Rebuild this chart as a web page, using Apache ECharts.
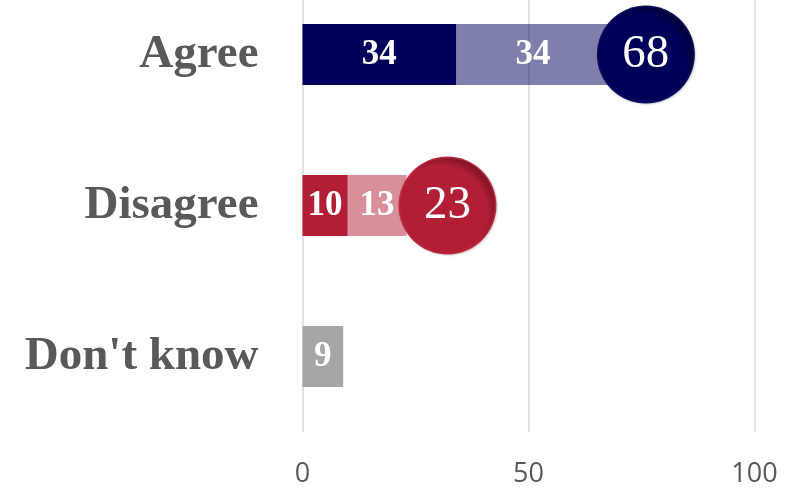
<!DOCTYPE html>
<html>
<head>
<meta charset="utf-8">
<script src="https://cdn.jsdelivr.net/npm/echarts@6/dist/echarts.min.js"></script>
<style>
  html, body { margin: 0; padding: 0; background: #ffffff; overflow: hidden; }
  /* the plot's top band runs past the top edge of the page */
  #chart { width: 797px; height: 509px; margin-top: -21px; }
</style>
</head>
<body>
<div id="chart"></div>
<script>
// Survey answers, in percent
const categories = ['Agree', 'Disagree', "Don't know"];
const strongValues = [34, 10, 9];     // strongly agree / strongly disagree / don't know
const mildValues = [34, 13, null];    // tend to agree / tend to disagree
const totals = [68, 23, null];        // net figure shown in the bubble
const xTicks = [0, 50, 100];

// Styling
const strongColors = ['#00005a', '#b21f35', '#a6a6a6'];
const mildColors = ['rgba(0,0,90,0.5)', 'rgba(178,31,53,0.5)', 'rgba(166,166,166,0.5)'];
const bubbleFace = ['#00005a', '#b21f35'];
const bubbleEdge = ['#000030', '#7a1222'];
const bubbleRim = ['#0c0c62', '#bb2a3e'];
const bubbleShift = [36, 41];
const labelFont = 'Liberation Serif, "DejaVu Serif", serif';

const chart = echarts.init(document.getElementById('chart'), null, { renderer: 'canvas' });

const segLabel = {
  show: true,
  position: 'inside',
  color: '#ffffff',
  fontFamily: labelFont,
  fontWeight: 'bold',
  fontSize: 35
};

const strongData = strongValues.map((v, i) => ({
  value: v,
  itemStyle: { color: strongColors[i] }
}));
const mildData = mildValues.map((v, i) => ({
  value: v,
  itemStyle: { color: mildColors[i] }
}));

const bubbleIdx = totals.map((t, i) => (t == null ? -1 : i)).filter(i => i >= 0);

const rimData = bubbleIdx.map(i => ({
  value: [totals[i], categories[i]],
  symbolOffset: [bubbleShift[i], 0],
  itemStyle: {
    color: bubbleRim[i],
    opacity: 1,
    shadowColor: 'rgba(0,0,0,0.18)',
    shadowBlur: 2,
    shadowOffsetX: 1,
    shadowOffsetY: 1
  }
}));

const faceData = bubbleIdx.map(i => ({
  value: [totals[i], categories[i]],
  symbolOffset: [bubbleShift[i], 0],
  itemStyle: {
    opacity: 1,
    color: {
      type: 'radial', x: 0.42, y: 0.58, r: 0.62,
      colorStops: [
        { offset: 0, color: bubbleFace[i] },
        { offset: 0.8, color: bubbleFace[i] },
        { offset: 1, color: bubbleEdge[i] }
      ]
    }
  }
}));

chart.setOption({
  animation: false,
  grid: { left: 302.5, right: 42.5, top: 0, bottom: 55, containLabel: false },
  xAxis: {
    type: 'value',
    min: xTicks[0],
    max: xTicks[xTicks.length - 1],
    interval: xTicks[1] - xTicks[0],
    axisLine: { show: false },
    axisTick: { show: false },
    splitLine: { show: true, lineStyle: { color: '#d9d9d9', width: 1.5 } },
    axisLabel: {
      color: '#595959',
      fontFamily: '"Open Sans", sans-serif',
      fontSize: 27,
      margin: 29
    }
  },
  yAxis: {
    type: 'category',
    inverse: true,
    data: categories,
    axisLine: { show: false },
    axisTick: { show: false },
    splitLine: { show: false },
    axisLabel: {
      color: '#595959',
      fontFamily: labelFont,
      fontWeight: 'bold',
      fontSize: 47,
      margin: 44
    }
  },
  series: [
    {
      name: 'Strong',
      type: 'bar',
      stack: 'total',
      barWidth: 61,
      data: strongData,
      label: segLabel,
      z: 2
    },
    {
      name: 'Mild',
      type: 'bar',
      stack: 'total',
      barWidth: 61,
      data: mildData,
      label: segLabel,
      z: 2
    },
    {
      name: 'Net rim',
      type: 'scatter',
      symbol: 'circle',
      symbolSize: 98,
      data: rimData,
      z: 5,
      silent: true
    },
    {
      name: 'Net',
      type: 'scatter',
      symbol: 'circle',
      symbolSize: 95,
      data: faceData,
      z: 6,
      label: {
        show: true,
        position: 'inside',
        color: '#ffffff',
        fontFamily: labelFont,
        fontSize: 47,
        formatter: p => p.value[0]
      }
    }
  ]
});
</script>
</body>
</html>
